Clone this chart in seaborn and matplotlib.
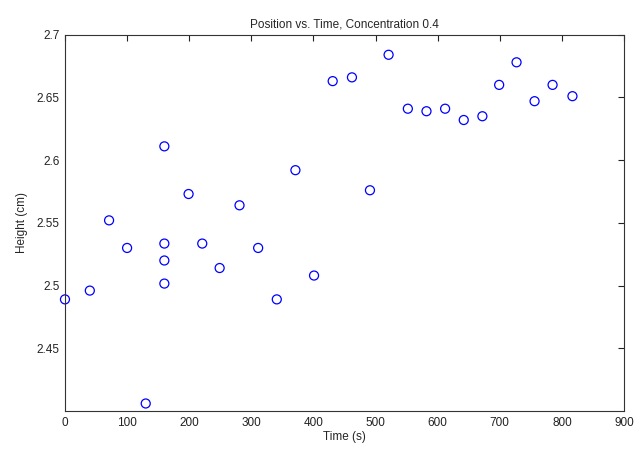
import pandas as pd
import matplotlib
matplotlib.use("Agg")
import matplotlib.pyplot as plt
import seaborn as sns

# --- DATA ---
time_s = [0, 40, 71, 100, 130, 160, 160, 160, 160, 199, 221, 249, 281, 311,
          341, 371, 401, 431, 462, 491, 521, 552, 582, 612, 642, 672, 699,
          727, 756, 785, 817]
height_cm = [2.489, 2.496, 2.552, 2.530, 2.406, 2.611, 2.5335, 2.520, 2.5016,
             2.573, 2.5335, 2.514, 2.564, 2.530, 2.489, 2.592, 2.508, 2.663,
             2.666, 2.576, 2.684, 2.641, 2.639, 2.641, 2.632, 2.635, 2.660,
             2.678, 2.647, 2.660, 2.651]
x_ticks = [0, 100, 200, 300, 400, 500, 600, 700, 800, 900]
y_ticks = [2.45, 2.5, 2.55, 2.6, 2.65, 2.7]
y_tick_labels = ["2.45", "2.5", "2.55", "2.6", "2.65", "2.7"]

df = pd.DataFrame({"time": time_s, "height": height_cm})

# --- PLOT ---
sns.set_style("white")
plt.rcParams['font.family'] = ['Liberation Sans', 'DejaVu Sans']

fig = plt.figure(figsize=(6.37, 4.49), dpi=100)
ax = fig.add_axes([0.102, 0.0846, 0.8776, 0.8381])

sns.scatterplot(data=df, x="time", y="height", ax=ax, marker="o",
                s=42, facecolor="none", edgecolor="#0000ff", linewidth=0.9,
                clip_on=False)

ax.set_xlim(0, 900)
ax.set_ylim(2.4, 2.7)
ax.set_xticks(x_ticks)
ax.set_yticks(y_ticks)
ax.set_yticklabels(y_tick_labels)
ax.tick_params(direction="in", length=4, width=0.8, top=True, right=True,
               labelsize=8.5, colors="#222222", pad=4)
for sp in ax.spines.values():
    sp.set_color("#333333")
    sp.set_linewidth(0.8)

ax.set_title("Position vs. Time, Concentration 0.4", fontsize=8.5, pad=5)
ax.set_xlabel("Time (s)", fontsize=8.5, labelpad=2)
ax.set_ylabel("Height (cm)", fontsize=8.5, labelpad=6)

plt.savefig("out.png", dpi=100)
plt.close()
